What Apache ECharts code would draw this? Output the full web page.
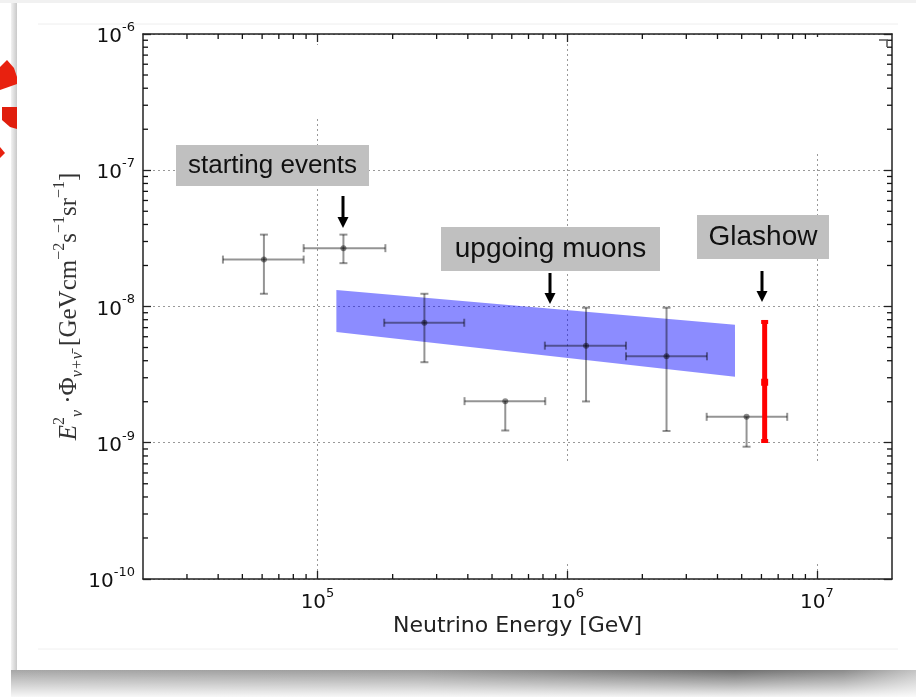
<!DOCTYPE html>
<html>
<head>
<meta charset="utf-8">
<script src="https://cdn.jsdelivr.net/npm/echarts@6/dist/echarts.min.js"></script>
<style>
html, body { margin: 0; padding: 0; background: #fff; }
#main { width: 916px; height: 697px; }
</style>
</head>
<body>
<div id="main"></div>
<script>
// starting events / cascades: centre, x range, y range
var evtX    = [6.1e4, 1.27e5, 2.68e5, 5.65e5, 1.19e6, 2.5e6, 5.23e6];
var evtXlo  = [4.18e4, 8.8e4, 1.85e5, 3.88e5, 8.14e5, 1.72e6, 3.62e6];
var evtXhi  = [8.8e4, 1.87e5, 3.87e5, 8.17e5, 1.72e6, 3.63e6, 7.61e6];
var evtY    = [2.21e-8, 2.68e-8, 7.6e-9, 2.02e-9, 5.16e-9, 4.31e-9, 1.55e-9];
var evtYlo  = [1.24e-8, 2.08e-8, 3.9e-9, 1.23e-9, 2.01e-9, 1.22e-9, 9.35e-10];
var evtYhi  = [3.37e-8, 3.37e-8, 1.24e-8, 2.02e-9, 9.8e-9, 9.8e-9, 1.55e-9];

// Glashow resonance event
var glashowX  = [6.18e6];
var glashowY  = [2.78e-9];
var glashowLo = [1.03e-9];
var glashowHi = [7.7e-9];

// upgoing muons band (power law, ends only)
var bandX  = [1.19e5, 4.7e6];
var bandLo = [6.5e-9, 3.05e-9];
var bandHi = [1.32e-8, 7.36e-9];

// axis ranges and ticks
var xRange = [2e4, 2e7];
var yRange = [1e-10, 1e-6];
var xMajor = [1e5, 1e6, 1e7];
var xMinor = [3e4, 4e4, 5e4, 6e4, 7e4, 8e4, 9e4,
              2e5, 3e5, 4e5, 5e5, 6e5, 7e5, 8e5, 9e5,
              2e6, 3e6, 4e6, 5e6, 6e6, 7e6, 8e6, 9e6];
var yMajor = [1e-10, 1e-9, 1e-8, 1e-7, 1e-6];
var yMinor = [2e-10, 3e-10, 4e-10, 5e-10, 6e-10, 7e-10, 8e-10, 9e-10,
              2e-9, 3e-9, 4e-9, 5e-9, 6e-9, 7e-9, 8e-9, 9e-9,
              2e-8, 3e-8, 4e-8, 5e-8, 6e-8, 7e-8, 8e-8, 9e-8,
              2e-7, 3e-7, 4e-7, 5e-7, 6e-7, 7e-7, 8e-7, 9e-7];

var chart = echarts.init(document.getElementById('main'));

var lineCol = '#222';
var powRich = {
    b: { fontFamily: 'DejaVu Sans', fontSize: 20, color: '#111', lineHeight: 26, verticalAlign: 'bottom' },
    e: { fontFamily: 'DejaVu Sans', fontSize: 13, color: '#111', lineHeight: 16, verticalAlign: 'top' }
};
function powLabel(v) {
    return '{b|10}{e|' + Math.round(Math.log10(v)) + '}';
}

function logAxis(range, pos, major) {
    return {
        type: 'log', logBase: 10, min: range[0], max: range[1], position: pos,
        axisLine: { show: true, lineStyle: { color: lineCol, width: 1.5 } },
        axisTick: { show: true, inside: true, length: 8,
                    customValues: major, lineStyle: { color: lineCol, width: 1.3 } },
        axisLabel: { show: false },
        splitLine: { show: false }
    };
}

var xMain = logAxis(xRange, 'bottom', xMajor);
xMain.axisLabel = { show: true, customValues: xMajor, formatter: powLabel, rich: powRich, margin: 8 };
xMain.splitLine = { show: true, lineStyle: { color: '#999', type: [2, 3], width: 1 } };
xMain.name = 'Neutrino Energy [GeV]';
xMain.nameLocation = 'middle';
xMain.nameGap = 36;
xMain.nameMoveOverlap = false;
xMain.nameTextStyle = { fontFamily: 'DejaVu Sans', fontSize: 22, color: '#222' };

var yMain = logAxis(yRange, 'left', yMajor);
yMain.axisLabel = { show: true, customValues: yMajor, formatter: powLabel, rich: powRich, margin: 8 };
yMain.splitLine = { show: true, lineStyle: { color: '#999', type: [2, 3], width: 1 } };
yMain.name = '{i|E}{sp|2}{sb|ν}{t| ·Φ}{sb|ν+ν̄}{t| [GeVcm}{sp|−2}{t|s}{sp|−1}{t|sr}{sp|−1}{t|]}';
yMain.nameLocation = 'middle';
yMain.nameRotate = 90;
yMain.nameGap = 57;
yMain.nameMoveOverlap = false;
var serif = 'Liberation Serif';
yMain.nameTextStyle = {
    color: '#333',
    rich: {
        i: { fontFamily: serif, fontStyle: 'italic', fontSize: 25, lineHeight: 34, verticalAlign: 'middle', color: '#333' },
        t: { fontFamily: serif, fontSize: 25, lineHeight: 34, verticalAlign: 'middle', color: '#333' },
        sp: { fontFamily: serif, fontSize: 16, lineHeight: 16, verticalAlign: 'top', color: '#333' },
        sb: { fontFamily: serif, fontStyle: 'italic', fontSize: 16, lineHeight: 20, verticalAlign: 'bottom', color: '#333' }
    }
};

// error bars of the events
function renderErr(params, api) {
    var x = api.value(0), y = api.value(1);
    var c = api.coord([x, y]);
    var l = api.coord([api.value(2), y]);
    var r = api.coord([api.value(3), y]);
    var b = api.coord([x, api.value(4)]);
    var t = api.coord([x, api.value(5)]);
    var st = { stroke: 'rgba(0,0,0,0.42)', lineWidth: 2 };
    var cap = 4;
    var kids = [
        { type: 'line', shape: { x1: l[0], y1: c[1], x2: r[0], y2: c[1] }, style: st },
        { type: 'line', shape: { x1: l[0], y1: c[1] - cap, x2: l[0], y2: c[1] + cap }, style: st },
        { type: 'line', shape: { x1: r[0], y1: c[1] - cap, x2: r[0], y2: c[1] + cap }, style: st },
        { type: 'line', shape: { x1: c[0], y1: b[1], x2: c[0], y2: t[1] }, style: st },
        { type: 'line', shape: { x1: c[0] - cap, y1: b[1], x2: c[0] + cap, y2: b[1] }, style: st }
    ];
    if (Math.abs(t[1] - c[1]) > 2) {
        kids.push({ type: 'line', shape: { x1: c[0] - cap, y1: t[1], x2: c[0] + cap, y2: t[1] }, style: st });
    }
    kids.push({ type: 'circle', shape: { cx: c[0], cy: c[1], r: 3 }, style: { fill: 'rgba(0,0,0,0.45)' } });
    return { type: 'group', children: kids };
}

function renderGlashow(params, api) {
    var x = api.value(0);
    var c = api.coord([x, api.value(1)]);
    var b = api.coord([x, api.value(2)]);
    var t = api.coord([x, api.value(3)]);
    var col = '#ff0000';
    return { type: 'group', children: [
        { type: 'line', shape: { x1: c[0], y1: b[1], x2: c[0], y2: t[1] }, style: { stroke: col, lineWidth: 5 } },
        { type: 'rect', shape: { x: c[0] - 3.5, y: b[1] - 2, width: 7, height: 4 }, style: { fill: col } },
        { type: 'rect', shape: { x: c[0] - 3.5, y: t[1] - 2, width: 7, height: 4 }, style: { fill: col } },
        { type: 'rect', shape: { x: c[0] - 3.5, y: c[1] - 3.5, width: 7, height: 7 }, style: { fill: col } }
    ] };
}

function renderBand(params, api) {
    var pts = [];
    for (var i = 0; i < bandX.length; i++) pts.push(api.coord([bandX[i], bandHi[i]]));
    for (var j = bandX.length - 1; j >= 0; j--) pts.push(api.coord([bandX[j], bandLo[j]]));
    return { type: 'polygon', shape: { points: pts }, style: { fill: 'rgba(0,0,255,0.45)' } };
}

var errData = evtX.map(function (x, i) {
    return [x, evtY[i], evtXlo[i], evtXhi[i], evtYlo[i], evtYhi[i]];
});
var glData = glashowX.map(function (x, i) {
    return [x, glashowY[i], glashowLo[i], glashowHi[i]];
});

// annotation boxes and arrows
function box(x, y, w, h, text, size) {
    return [
        { type: 'rect', z: 10, shape: { x: x, y: y, width: w, height: h }, style: { fill: '#c0c0c0' } },
        { type: 'text', z: 11, x: x + w / 2, y: y + h / 2,
          style: { text: text, fill: '#111', font: size + 'px "Liberation Sans", Arial, sans-serif',
                   textAlign: 'center', textVerticalAlign: 'middle' } }
    ];
}
function arrow(x, y1, y2) {
    return [
        { type: 'line', z: 10, shape: { x1: x, y1: y1, x2: x, y2: y2 - 9 }, style: { stroke: '#000', lineWidth: 3 } },
        { type: 'polygon', z: 10, shape: { points: [[x - 5.5, y2 - 11], [x + 5.5, y2 - 11], [x, y2]] }, style: { fill: '#000' } }
    ];
}

var deco = [
    // slide frame and shadows
    { type: 'rect', z: -5, shape: { x: 0, y: 0, width: 916, height: 3 }, style: { fill: '#f1f1f1' } },
    { type: 'rect', z: -5, shape: { x: 11, y: 3, width: 6, height: 667 },
      style: { fill: new echarts.graphic.LinearGradient(0, 0, 1, 0, [
          { offset: 0, color: '#f2f2f2' }, { offset: 1, color: '#c9c9c9' }]) } },
    { type: 'rect', z: -5, shape: { x: 11, y: 670, width: 905, height: 27 },
      style: { fill: new echarts.graphic.LinearGradient(0, 0, 1, 0, [
          { offset: 0, color: '#a6a6a6' }, { offset: 0.45, color: '#9c9c9c' },
          { offset: 0.8, color: '#6e6e6e' }, { offset: 0.92, color: '#8a8a8a' }, { offset: 1, color: '#c4c4c4' }]) } },
    { type: 'rect', z: -4, shape: { x: 11, y: 670, width: 905, height: 27 },
      style: { fill: new echarts.graphic.LinearGradient(0, 0, 0, 1, [
          { offset: 0, color: 'rgba(255,255,255,0)' }, { offset: 1, color: 'rgba(255,255,255,0.92)' }]) } },
    { type: 'line', z: -5, shape: { x1: 38, y1: 24, x2: 898, y2: 24 }, style: { stroke: '#eeeeee', lineWidth: 1 } },
    { type: 'line', z: -5, shape: { x1: 38, y1: 649, x2: 898, y2: 649 }, style: { stroke: '#f0f0f0', lineWidth: 1 } },
    // red dashed ring peeking out on the left
    { type: 'polygon', z: -3, shape: { points: [[0, 67], [7, 60], [14, 68], [17, 77], [17, 84], [0, 90]] }, style: { fill: '#e8210f' } },
    { type: 'polygon', z: -3, shape: { points: [[2, 107], [17, 107], [17, 129], [10, 127], [2, 120]] }, style: { fill: '#e01e0d' } },
    { type: 'polygon', z: -3, shape: { points: [[0, 147], [5, 153], [0, 158]] }, style: { fill: '#e8210f' } },
    // white patches over the grid left from the original slide
    { type: 'rect', z: 1, shape: { x: 305, y: 45, width: 28, height: 73 }, style: { fill: '#fff' } },
    { type: 'rect', z: 1, shape: { x: 805, y: 37, width: 24, height: 115 }, style: { fill: '#fff' } },
    { type: 'rect', z: 1, shape: { x: 420, y: 462, width: 460, height: 101 }, style: { fill: '#fff' } },
    // little corner mark
    { type: 'polyline', z: 10, shape: { points: [[879, 40], [887, 40], [887, 47]] }, style: { stroke: '#555', lineWidth: 1.5 } }
];
deco = deco.concat(
    box(176, 145, 193, 41, 'starting events', 26),
    box(441, 227, 219, 44, 'upgoing muons', 28),
    box(697, 215, 132, 44, 'Glashow', 28),
    arrow(343, 196, 228),
    arrow(550, 273, 304),
    arrow(762, 271, 302)
);

var option = {
    backgroundColor: '#fff',
    animation: false,
    grid: { left: 143, top: 34, right: 24, bottom: 118 },
    xAxis: [
        xMain,
        logAxis(xRange, 'top', xMajor)
    ],
    yAxis: [
        yMain,
        logAxis(yRange, 'right', yMajor)
    ],
    graphic: deco,
    series: [
        { type: 'custom', name: 'upgoing muons', renderItem: renderBand, data: [[bandX[0], bandLo[0]]], z: 2, silent: true },
        { type: 'custom', name: 'starting events', renderItem: renderErr, data: errData, z: 3, silent: true,
          encode: { x: [0, 2, 3], y: [1, 4, 5] } },
        { type: 'custom', name: 'Glashow', renderItem: renderGlashow, data: glData, z: 4, silent: true,
          encode: { x: 0, y: [1, 2, 3] } }
    ]
};
chart.setOption(option);

// minor log ticks on all four sides, placed through the axes' own scales
var finder = { xAxisIndex: 0, yAxisIndex: 0 };
var tickStyle = { stroke: '#111', lineWidth: 1.3 };
var minorTicks = [];
xMinor.forEach(function (v) {
    var b = chart.convertToPixel(finder, [v, yRange[0]]);
    var t = chart.convertToPixel(finder, [v, yRange[1]]);
    minorTicks.push({ type: 'line', z: 6, shape: { x1: b[0], y1: b[1], x2: b[0], y2: b[1] - 5 }, style: tickStyle });
    minorTicks.push({ type: 'line', z: 6, shape: { x1: t[0], y1: t[1], x2: t[0], y2: t[1] + 5 }, style: tickStyle });
});
yMinor.forEach(function (v) {
    var l = chart.convertToPixel(finder, [xRange[0], v]);
    var r = chart.convertToPixel(finder, [xRange[1], v]);
    minorTicks.push({ type: 'line', z: 6, shape: { x1: l[0], y1: l[1], x2: l[0] + 5, y2: l[1] }, style: tickStyle });
    minorTicks.push({ type: 'line', z: 6, shape: { x1: r[0], y1: r[1], x2: r[0] - 5, y2: r[1] }, style: tickStyle });
});
chart.setOption({ graphic: deco.concat(minorTicks) });
</script>
</body>
</html>
